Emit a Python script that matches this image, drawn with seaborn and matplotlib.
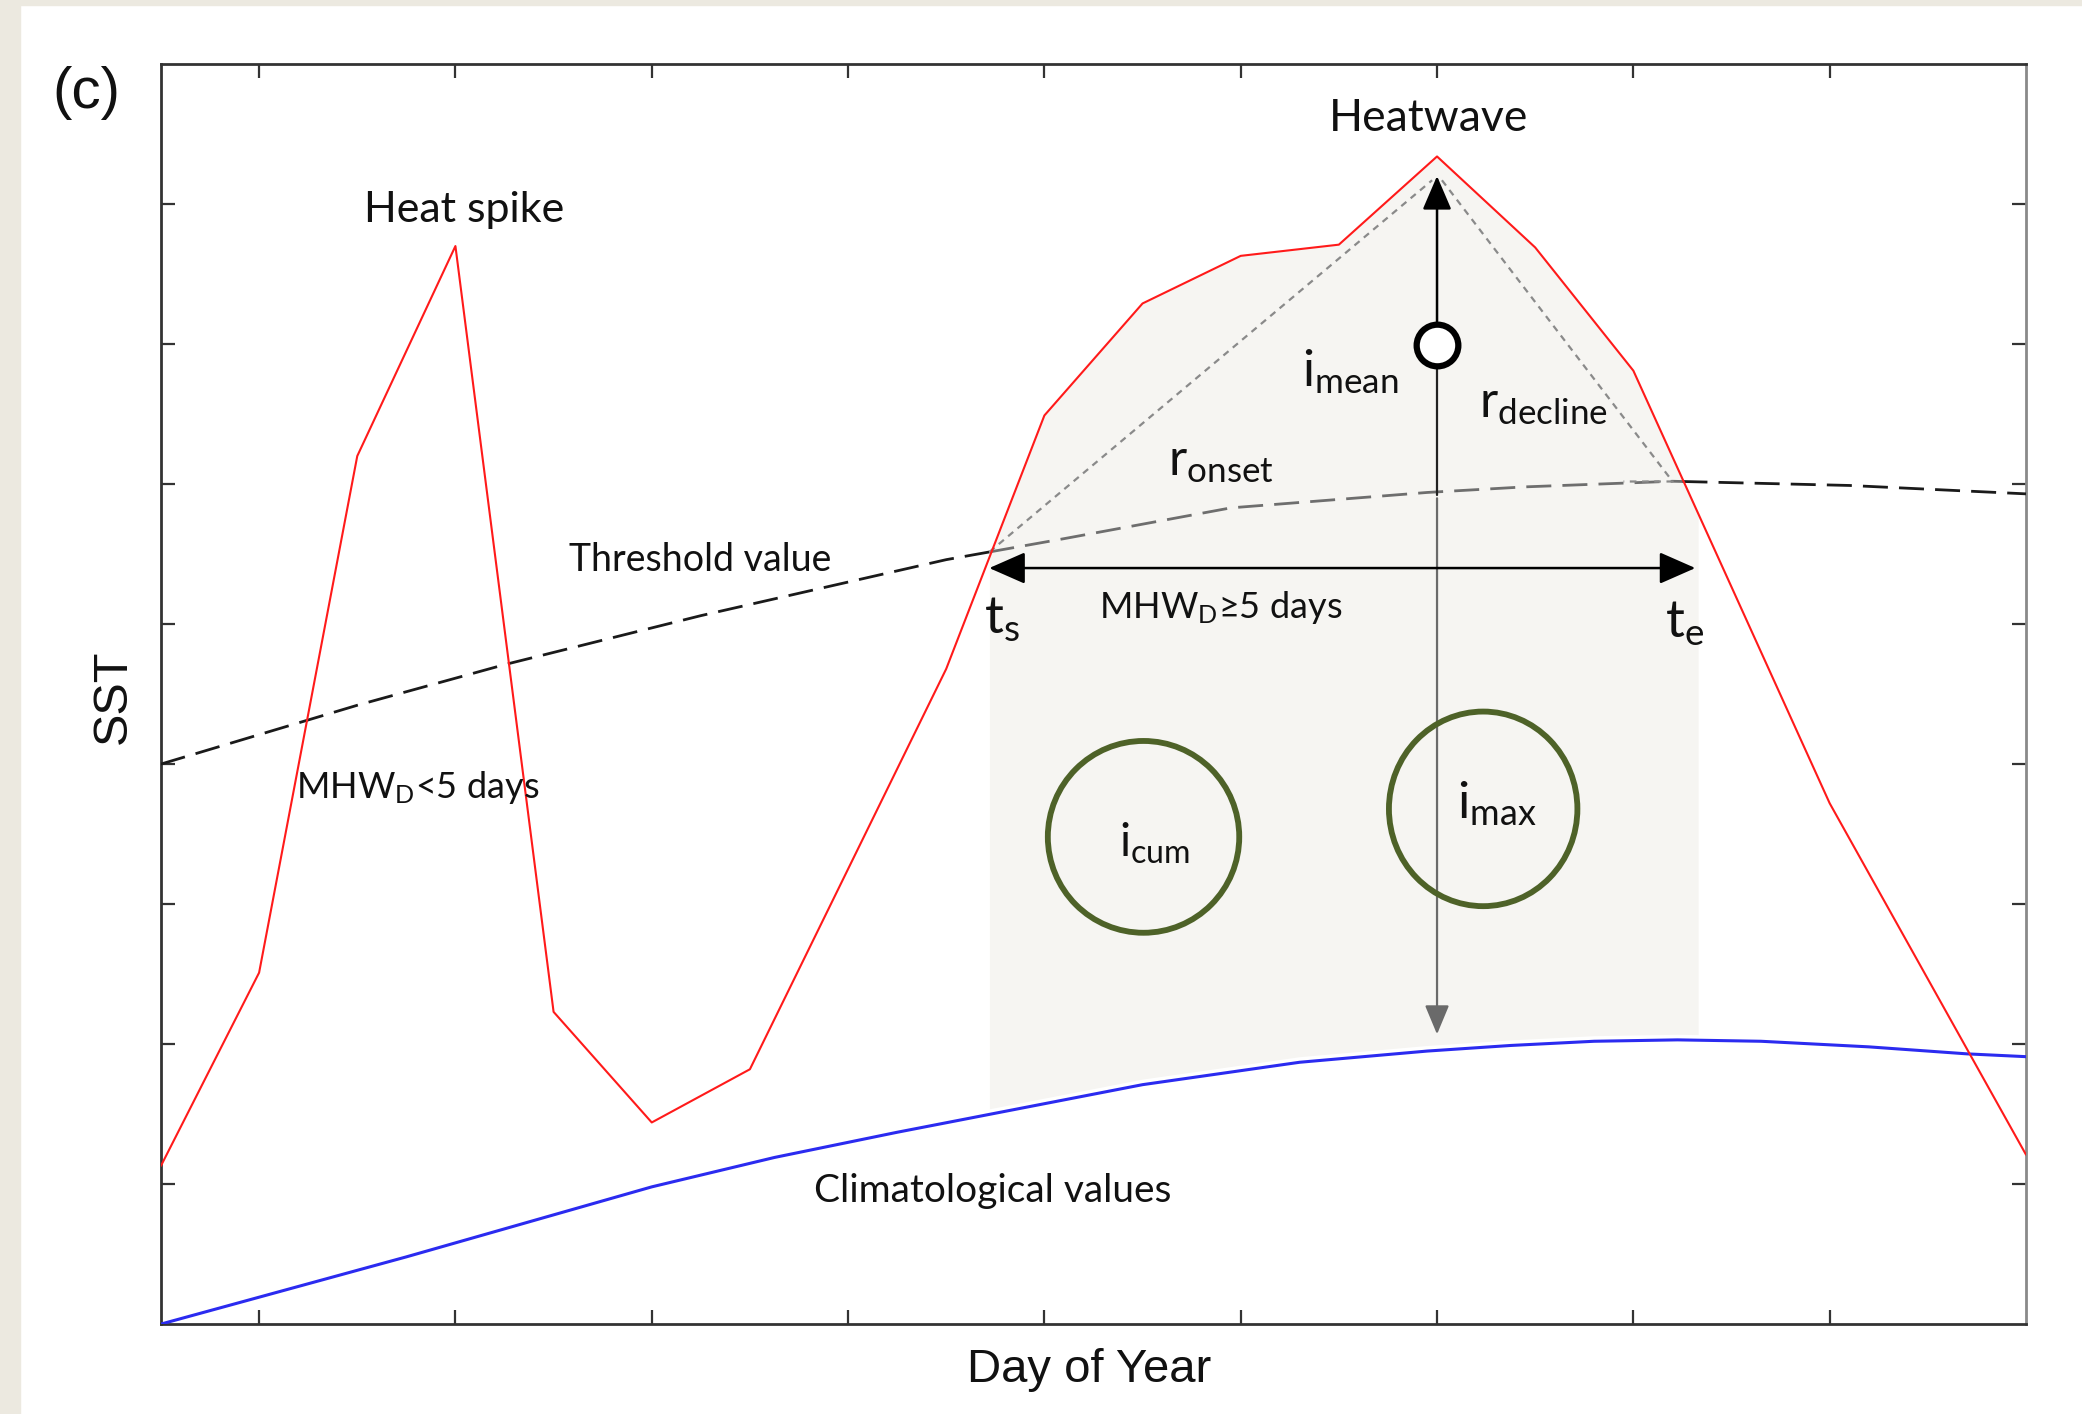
import numpy as np
import matplotlib
matplotlib.use('Agg')
import matplotlib.pyplot as plt
from matplotlib.patches import Ellipse, Rectangle
import seaborn as sns

# values (x: half-tick steps, y: tick units)
day_sst = [0, 1, 2, 3, 4, 5, 6, 8, 9, 10, 11, 12, 13, 14, 15, 17, 19]
sst = [1.13, 2.51, 6.20, 7.70, 2.23, 1.44, 1.82, 4.68, 6.49, 7.29, 7.63, 7.71,
       8.34, 7.69, 6.81, 3.72, 1.21]

day_thr = [0, 2.0, 3.5, 5.5, 8.0, 9.2, 10.9, 12.9, 13.9, 15.4, 17.2, 19]
sst_thr = [4.00, 4.42, 4.71, 5.06, 5.46, 5.61, 5.83, 5.94, 5.98, 6.02, 5.99, 5.93]

day_clim = [0, 2.5, 3.75, 5.0, 6.25, 7.5, 8.75, 10.0, 11.6, 12.9, 13.75, 14.6,
            15.45, 16.3, 17.4, 18.4, 19]
sst_clim = [0, 0.48, 0.73, 0.98, 1.19, 1.37, 1.54, 1.71, 1.87, 1.95, 1.99, 2.02,
            2.03, 2.02, 1.98, 1.93, 1.91]

T_START = 8.44   # t_s
T_END = 15.5     # t_e
BOX_END = 15.66  # right edge of shaded event area
I_MEAN = 6.99
X_TICKS = [1, 3, 5, 7, 9, 11, 13, 15, 17]
Y_TICKS = [1, 2, 3, 4, 5, 6, 7, 8]

sns.set_theme(style='white')
plt.rcParams['font.family'] = ['Lato', 'DejaVu Sans']
plt.rcParams['mathtext.fontset'] = 'custom'
plt.rcParams['mathtext.rm'] = 'Lato'
plt.rcParams['mathtext.it'] = 'Lato'

fig = plt.figure(figsize=(20.82, 14.14), dpi=100)
fig.patch.set_facecolor('white')
# beige page border on left / top
fig.patches.append(Rectangle((0, 0), 0.0096, 1, transform=fig.transFigure,
                             color='#ece9e0', zorder=0))
fig.patches.append(Rectangle((0, 0.9965), 1, 0.0035, transform=fig.transFigure,
                             color='#ece9e0', zorder=0))

ax = fig.add_axes([0.0773, 0.0636, 0.8958, 0.8911])
ax.set_facecolor('white')

# shaded event area between t_s and box edge
xs = sorted(set([T_START, BOX_END] + [d for d in day_sst if T_START < d < BOX_END]
                + [d for d in day_clim if T_START < d < BOX_END]))
top = np.interp(xs, day_sst, sst)
bot = np.interp(xs, day_clim, sst_clim)
ax.fill_between(xs, bot + 0.04, top, color='#f6f5f2', lw=0, zorder=0)

# climatology
sns.lineplot(x=day_clim, y=sst_clim, color='#2b2bf0', lw=2.2, sort=False,
             estimator=None, ax=ax, zorder=3)

# threshold: black outside the event, grey inside
thr_s = np.interp(T_START, day_thr, sst_thr)
thr_e = np.interp(T_END, day_thr, sst_thr)
dt = np.array(day_thr)
st = np.array(sst_thr)
m_left = dt < T_START
m_mid = (dt > T_START) & (dt < T_END)
m_right = dt > T_END
parts = [
    (list(dt[m_left]) + [T_START], list(st[m_left]) + [thr_s], '#1a1a1a'),
    ([T_START] + list(dt[m_mid]) + [T_END], [thr_s] + list(st[m_mid]) + [thr_e], '#6e6e6e'),
    ([T_END] + list(dt[m_right]), [thr_e] + list(st[m_right]), '#1a1a1a'),
]
for px, py, c in parts:
    sns.lineplot(x=px, y=py, color=c, lw=2.0, sort=False, estimator=None, ax=ax, zorder=3)
    ax.lines[-1].set_dashes([9, 4])

# SST
sns.lineplot(x=day_sst, y=sst, color='#ff1a1a', lw=1.5, sort=False,
             estimator=None, ax=ax, zorder=4)

# onset / decline rate guides
k_peak = int(np.argmax(sst))
x_pk, y_pk = day_sst[k_peak], sst[k_peak]
ax.plot([T_START, x_pk - 0.05], [thr_s, y_pk - 0.17], color='#8a8a8a', lw=1.6,
        dashes=[3, 2.5], zorder=3)
ax.plot([x_pk + 0.05, T_END - 0.1, T_END - 0.6], [y_pk - 0.17, thr_e, thr_e],
        color='#8a8a8a', lw=1.6, dashes=[3, 2.5], zorder=3)

# i_max vertical arrows
ax.annotate('', xy=(x_pk, y_pk - 0.12), xytext=(x_pk, I_MEAN + 0.15),
            arrowprops=dict(arrowstyle='-|>,head_length=0.7,head_width=0.3',
                            mutation_scale=30, color='black', lw=1.8), zorder=5)
ax.plot([x_pk, x_pk], [I_MEAN, thr_e - 0.1], color='#222222', lw=1.6, zorder=4)
ax.annotate('', xy=(x_pk, 2.05), xytext=(x_pk, thr_e - 0.1),
            arrowprops=dict(arrowstyle='-|>,head_length=0.6,head_width=0.25',
                            mutation_scale=30, color='#6a6a6a', lw=1.6), zorder=4)
ax.plot([x_pk], [I_MEAN], marker='o', ms=30, mfc='white', mec='black', mew=4.5, zorder=6)

# duration arrow
ax.annotate('', xy=(BOX_END, 5.40), xytext=(T_START - 0.03, 5.40),
            arrowprops=dict(arrowstyle='<|-|>,head_length=0.75,head_width=0.33',
                            mutation_scale=30, color='black', lw=1.8), zorder=5)

# metric circles
green = '#4e6228'
ax.add_patch(Ellipse((10.01, 3.48), 1.95, 1.37, fill=False, ec=green, lw=4.2, zorder=5))
ax.add_patch(Ellipse((13.47, 3.68), 1.92, 1.39, fill=False, ec=green, lw=4.2, zorder=5))

# labels
txt = dict(ha='center', va='center', color='#111111', zorder=7)
ax.text(3.09, 7.96, 'Heat spike', fontsize=31, **txt)
ax.text(12.91, 8.61, 'Heatwave', fontsize=32, **txt)
ax.text(5.49, 5.46, 'Threshold value', fontsize=27, **txt)
ax.text(2.62, 3.83, r'MHW$_{\mathrm{D}}$<5 days', fontsize=26, **txt)
ax.text(10.80, 5.12, r'MHW$_{\mathrm{D}}$≥5 days', fontsize=26, **txt)
ax.text(8.57, 5.03, r'$\mathrm{t_{s}}$', fontsize=38, **txt)
ax.text(15.52, 5.00, r'$\mathrm{t_{e}}$', fontsize=38, **txt)
ax.text(10.80, 6.16, r'$\mathrm{r_{onset}}$', fontsize=36, **txt)
ax.text(12.12, 6.80, r'$\mathrm{i_{mean}}$', fontsize=36, **txt)
ax.text(14.08, 6.57, r'$\mathrm{r_{decline}}$', fontsize=36, **txt)
ax.text(10.12, 3.43, r'$\mathrm{i_{cum}}$', fontsize=33, **txt)
ax.text(13.61, 3.72, r'$\mathrm{i_{max}}$', fontsize=37, **txt)
ax.text(8.47, 0.95, 'Climatological values', fontsize=28, **txt)

ax.set_xlim(0, 19)
ax.set_ylim(0, 9)
ax.set_xticks(X_TICKS)
ax.set_yticks(Y_TICKS)
ax.tick_params(direction='in', length=10, width=1.6, color='#333333',
               top=True, right=True, bottom=True, left=True,
               labelbottom=False, labelleft=False)
for s in ax.spines.values():
    s.set_color('#333333')
    s.set_linewidth(2.0)
ax.spines['right'].set_color('#8a8a8a')

ax.set_xlabel('Day of Year', fontsize=34, family=['Liberation Sans'], color='#111111')
ax.xaxis.set_label_coords(0.4976, -0.0365)
ax.xaxis.label.set_va('center')
ax.set_ylabel('SST', fontsize=35, family=['Liberation Sans'], color='#111111')
ax.yaxis.set_label_coords(-0.0257, 0.4976)
ax.yaxis.label.set_va('center')

fig.text(0.0413, 0.934, '(c)', fontsize=42, family=['Liberation Sans'],
         ha='center', va='center', color='#111111')

fig.savefig('out.png', dpi=100, facecolor=fig.get_facecolor())
